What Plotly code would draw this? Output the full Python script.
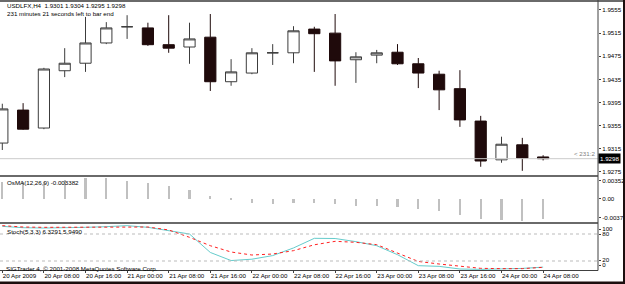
import plotly.graph_objects as go

# ---------------- data (USDLFX, H4) ----------------
bars = list(range(27))
opens = [1.9325, 1.9382, 1.9351, 1.9450, 1.9463, 1.9498, 1.9526, 1.9524, 1.9495, 1.9491,
         1.9508, 1.9431, 1.9446, 1.9481, 1.9481, 1.9522, 1.9515, 1.9469, 1.9477, 1.9482,
         1.9462, 1.9444, 1.9419, 1.9363, 1.9296, 1.9322, 1.9301]
highs = [1.9393, 1.9394, 1.9455, 1.9489, 1.9543, 1.9534, 1.9546, 1.9533, 1.9546, 1.9533,
         1.9548, 1.9470, 1.9489, 1.9496, 1.9527, 1.9526, 1.9548, 1.9482, 1.9486, 1.9496,
         1.9472, 1.9450, 1.9451, 1.9372, 1.9336, 1.9334, 1.9304]
lows = [1.9313, 1.9348, 1.9349, 1.9439, 1.9448, 1.9496, 1.9505, 1.9493, 1.9481, 1.9462,
        1.9415, 1.9424, 1.9444, 1.9460, 1.9463, 1.9448, 1.9424, 1.9429, 1.9463, 1.9460,
        1.9420, 1.9382, 1.9353, 1.9284, 1.9291, 1.9277, 1.9295]
closes = [1.9384, 1.9349, 1.9453, 1.9463, 1.9498, 1.9524, 1.9526, 1.9495, 1.9489, 1.9505,
          1.9431, 1.9448, 1.9481, 1.9481, 1.9519, 1.9514, 1.9467, 1.9474, 1.9481, 1.9462,
          1.9446, 1.9417, 1.9365, 1.9294, 1.9323, 1.9299, 1.9298]
bid = 1.9298

osma = [0.0029, 0.0028, 0.0029, 0.0032, 0.0035, 0.003522, 0.0030, 0.0026, 0.0021, 0.0015,
        0.0005, -0.0002, -0.0008, -0.0010, -0.0008, -0.0008, -0.0010, -0.0012, -0.0013, -0.0014,
        -0.0017, -0.0021, -0.0027, -0.0034, -0.0036, -0.00378, -0.003382]

stoch_main = [97, 94, 93.3, 93.3, 94.8, 96.3, 98.5, 94.8, 87.4, 80,
              39, 21, 24, 32, 49, 70.4, 70, 63, 54, 34,
              9.6, 8.1, 2.2, 1.5, 2.5, 3.5, 6.3291]
stoch_signal = [98.5, 95.5, 94.8, 94.8, 94.8, 95.5, 96.3, 95.5, 89, 72.6,
                54, 40, 33.3, 35.5, 43, 56, 63.7, 61.5, 56.3, 37.8,
                19, 13.3, 8.9, 3.7, 3.0, 3.0, 5.949]
stoch_levels = [80, 20]

price_ticks = [1.9275, 1.9315, 1.9355, 1.9395, 1.9435, 1.9475, 1.9515, 1.9555]
time_tick_bars = list(range(0, 27, 2))
time_labels = ["20 Apr 2009", "20 Apr 08:00", "20 Apr 16:00", "21 Apr 00:00", "21 Apr 08:00",
               "21 Apr 16:00", "22 Apr 00:00", "22 Apr 08:00", "22 Apr 16:00", "23 Apr 00:00",
               "23 Apr 08:00", "23 Apr 16:00", "24 Apr 00:00", "24 Apr 08:00"]

title1 = "USDLFX,H4\u00a0\u00a01.9301 1.9304 1.9295 1.9298"
title2 = "231 minutes 21 seconds left to bar end"
osma_label = "OsMA(12,26,9) -0.003382"
stoch_label = "Stoch(5,3,3) 6.3291 5.9490"
copyright_label = "SIGTrader 4, \u00a9 2001-2008 MetaQuotes Software Corp."

# ---------------- layout geometry ----------------
W, H = 625, 284
FONT = "Liberation Sans"
FS = 6.2
xr = 598 / W


def py(px):
    return 1 - px / H


fig = go.Figure()

fig.add_trace(go.Candlestick(
    x=bars, open=opens, high=highs, low=lows, close=closes,
    xaxis="x", yaxis="y",
    increasing=dict(line=dict(color="#3c3c3c", width=1), fillcolor="#ffffff"),
    decreasing=dict(line=dict(color="#1f0a0b", width=1), fillcolor="#1f0a0b"),
    whiskerwidth=0, hoverinfo="skip", showlegend=False))

fig.add_trace(go.Bar(x=bars, y=osma, xaxis="x2", yaxis="y2", width=0.1,
                     marker=dict(color="#c0c0c0", line=dict(width=0)),
                     hoverinfo="skip", showlegend=False))

fig.add_trace(go.Scatter(x=bars, y=stoch_main, xaxis="x3", yaxis="y3", mode="lines",
                         line=dict(color="#66cccc", width=1), hoverinfo="skip", showlegend=False))
fig.add_trace(go.Scatter(x=bars, y=stoch_signal, xaxis="x3", yaxis="y3", mode="lines",
                         line=dict(color="#ff2020", width=1, dash="dot"), hoverinfo="skip",
                         showlegend=False))

shapes = []
# bid line
shapes.append(dict(type="line", xref="x domain", yref="y", x0=0, x1=1, y0=bid, y1=bid,
                   line=dict(color="#cccccc", width=1)))
# stochastic levels
for lv in stoch_levels:
    shapes.append(dict(type="line", xref="x3 domain", yref="y3", x0=0, x1=1, y0=lv, y1=lv,
                       line=dict(color="#bbbbbb", width=1, dash="dot")))
# frame / separators
shapes += [
    dict(type="line", xref="paper", yref="paper", x0=0, x1=623 / W, y0=py(1), y1=py(1),
         line=dict(color="#6a6a6a", width=2)),
    dict(type="line", xref="paper", yref="paper", x0=0, x1=xr, y0=py(176), y1=py(176),
         line=dict(color="#6a6a6a", width=2)),
    dict(type="line", xref="paper", yref="paper", x0=0, x1=xr, y0=py(223), y1=py(223),
         line=dict(color="#6a6a6a", width=2)),
    dict(type="line", xref="paper", yref="paper", x0=0, x1=xr, y0=py(270.5), y1=py(270.5),
         line=dict(color="#404040", width=1)),
    dict(type="line", xref="paper", yref="paper", x0=xr, x1=xr, y0=py(0), y1=py(270.5),
         line=dict(color="#404040", width=1)),
    dict(type="rect", xref="paper", yref="paper", x0=0, x1=1, y0=0, y1=py(281.5),
         fillcolor="#1c0f0f", line=dict(width=0)),
    dict(type="rect", xref="paper", yref="paper", x0=623 / W, x1=1, y0=0, y1=1,
         fillcolor="#1c0f0f", line=dict(width=0)),
]

ann_font = dict(family=FONT, size=FS, color="#000000")
annotations = [
    dict(text=title1, xref="paper", yref="paper", x=5 / W, y=py(6), xanchor="left",
         yanchor="middle", showarrow=False, font=ann_font),
    dict(text=title2, xref="paper", yref="paper", x=5 / W, y=py(13.7), xanchor="left",
         yanchor="middle", showarrow=False, font=ann_font),
    dict(text=osma_label, xref="paper", yref="paper", x=5 / W, y=py(182.3), xanchor="left",
         yanchor="middle", showarrow=False, font=ann_font),
    dict(text=stoch_label, xref="paper", yref="paper", x=5 / W, y=py(231.3), xanchor="left",
         yanchor="middle", showarrow=False, font=ann_font),
    dict(text=copyright_label, xref="paper", yref="paper", x=4 / W, y=py(268), xanchor="left",
         yanchor="middle", showarrow=False, font=ann_font),
    dict(text=f"{bid:.4f}", xref="paper", yref="y", x=xr, y=bid, xanchor="left",
         yanchor="middle", showarrow=False, bgcolor="#000000", borderpad=1,
         font=dict(family=FONT, size=FS, color="#ffffff")),
    dict(text="< 231:2", xref="paper", yref="y", x=597 / W, y=bid, xanchor="right",
         yanchor="bottom", showarrow=False, font=dict(family=FONT, size=FS, color="#808080")),
]

axis_common = dict(showgrid=False, zeroline=False, showline=False, fixedrange=True)
tickfont = dict(family=FONT, size=FS, color="#000000")

fig.update_layout(
    template="none",
    width=W, height=H,
    margin=dict(l=0, r=0, t=0, b=0, pad=0),
    paper_bgcolor="#ffffff", plot_bgcolor="#ffffff",
    showlegend=False, boxgap=0.23, bargap=0,
    shapes=shapes, annotations=annotations,
    xaxis=dict(domain=[0, xr], range=[-0.1106, 28.639], anchor="y", showticklabels=False,
               ticks="", rangeslider=dict(visible=False), automargin=False, **axis_common),
    xaxis2=dict(domain=[0, xr], matches="x", anchor="y2", showticklabels=False, ticks="",
                automargin=False, **axis_common),
    xaxis3=dict(domain=[0, xr], matches="x", anchor="y3", tickvals=time_tick_bars,
                ticktext=time_labels, ticks="outside", ticklen=2, tickcolor="#404040",
                ticklabelposition="outside right", tickangle=0, tickfont=tickfont,
                automargin=False, **axis_common),
    yaxis=dict(domain=[py(175), py(2)], range=[1.92698, 1.95688], anchor="x", side="right",
               tickvals=price_ticks, ticktext=[f"{v:.4f}" for v in price_ticks],
               ticks="outside", ticklen=2, tickcolor="#404040", tickfont=tickfont,
               automargin=False, **axis_common),
    yaxis2=dict(domain=[py(222), py(177)], range=[-0.003973, 0.003668], anchor="x2",
                side="right", tickvals=[0.00304, 0, -0.00318],
                ticktext=["0.003522", "0.00", "-0.00378"],
                ticks="outside", ticklen=2, tickcolor="#404040", tickfont=tickfont,
                automargin=False, **axis_common),
    yaxis3=dict(domain=[py(270), py(225)], range=[0, 100], anchor="x3", side="right",
                tickvals=[91, 80, 22, 10.5], ticktext=["100", "80", "20", "0"],
                ticks="outside", ticklen=2, tickcolor="#404040", tickfont=tickfont,
                automargin=False, **axis_common),
)

fig.write_html("out.html")
